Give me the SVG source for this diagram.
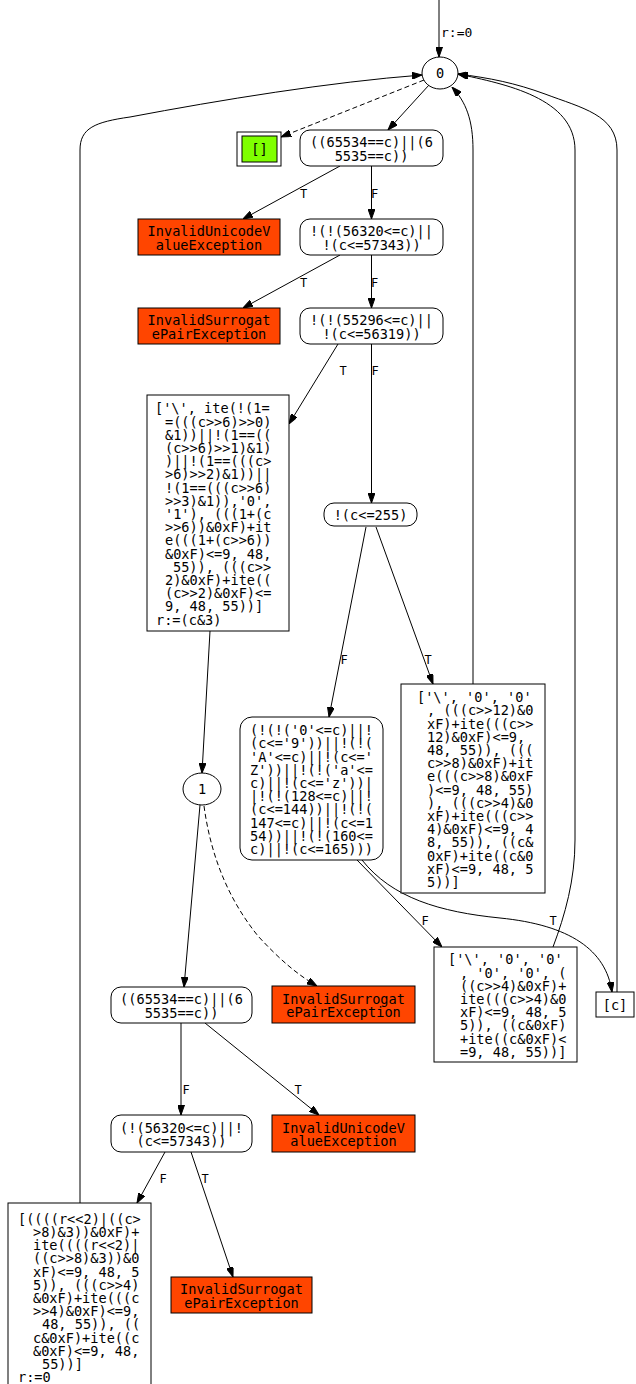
<svg xmlns="http://www.w3.org/2000/svg" width="636" height="1384" viewBox="0 0 636 1384">
<style>
text{font-family:"DejaVu Sans Mono","Liberation Mono",monospace;font-size:13.6px;fill:#000}
.c{text-anchor:middle}
.e{font-size:12px;text-anchor:middle}
.s{font-size:13px}
.n{fill:#fff;stroke:#000;stroke-width:1}
.x{fill:#ff4500;stroke:#000;stroke-width:1}
.g{fill:#7fff00;stroke:#000;stroke-width:1}
.edge path,.edge line{fill:none;stroke:#000;stroke-width:1;marker-end:url(#ah)}
.edge .d{stroke-dasharray:5,3}
</style>
<defs>
<marker id="ah" markerWidth="10" markerHeight="7" refX="10" refY="3.5" orient="auto" markerUnits="userSpaceOnUse"><path d="M0,0 L10,3.5 L0,7 z" fill="#000" stroke="#000" stroke-width="1" stroke-dasharray="none"/></marker>
</defs>
<rect width="636" height="1384" fill="#fff"/>
<g id="connectors" class="edge">
<line x1="439" y1="0" x2="439" y2="57"/>
<text class="s" x="441" y="37">r:=0</text>
<line class="d" x1="424" y1="80" x2="281" y2="137"/>
<line x1="429" y1="85" x2="388" y2="130"/>
<line x1="340" y1="166" x2="243" y2="219"/>
<text class="e" x="303.5" y="198">T</text>
<line x1="371.5" y1="166" x2="371.5" y2="219"/>
<text class="e" x="374.5" y="198">F</text>
<line x1="340" y1="255" x2="243" y2="308"/>
<text class="e" x="303.5" y="287">T</text>
<line x1="371.5" y1="255" x2="371.5" y2="308"/>
<text class="e" x="374.5" y="287">F</text>
<line x1="338" y1="344" x2="289" y2="424"/>
<text class="e" x="343" y="375">T</text>
<line x1="371.5" y1="344" x2="371.5" y2="503"/>
<text class="e" x="375" y="375">F</text>
<line x1="366" y1="527" x2="329" y2="717"/>
<text class="e" x="344" y="664">F</text>
<line x1="376" y1="527" x2="433" y2="684"/>
<text class="e" x="428" y="664">T</text>
<path d="M473,684 L473,150 C473,120 466,102 452,87"/>
<line x1="210" y1="631" x2="202" y2="773"/>
<line x1="357" y1="860" x2="442" y2="947"/>
<text class="e" x="425" y="925">F</text>
<path d="M362,860 C392,898 440,912 500,918 C570,925 606,950 612,992"/>
<text class="e" x="553" y="925">T</text>
<path d="M553,947 C565,915 575,880 575,840 L575,150 C575,98 505,84 458,74"/>
<path d="M617,992 L617,150 C617,115 582,108 545,94 C515,83 490,78 458,74"/>
<path d="M80,1203 L80,150 C80,128 95,122 130,117 C220,100 330,82 422,75"/>
<line x1="200" y1="805" x2="184" y2="987"/>
<path class="d" d="M204,806 C210,850 225,895 258,936 C280,960 298,975 317,986"/>
<line x1="181" y1="1023" x2="181" y2="1115"/>
<text class="e" x="186" y="1094">F</text>
<line x1="205" y1="1023" x2="319" y2="1115"/>
<text class="e" x="298" y="1094">T</text>
<line x1="165" y1="1152" x2="137" y2="1203"/>
<text class="e" x="163" y="1183">F</text>
<line x1="191" y1="1152" x2="233" y2="1277"/>
<text class="e" x="205" y="1183">T</text>
</g>
<g id="n0"><ellipse class="n" cx="440" cy="73" rx="18" ry="16"/><text class="c" x="440" y="78">0</text></g>
<g id="nEmpty"><rect class="n" x="237" y="132" width="44" height="34"/><rect class="g" x="242" y="136" width="35" height="26"/><text class="c" x="259.5" y="154">[]</text></g>
<g id="nA"><rect class="n" x="300" y="130" width="143" height="36" rx="10"/><text class="c" x="371.5" y="147.4">((65534==c)||(6</text><text class="c" x="371.5" y="160.6">5535==c))</text></g>
<g id="nIUVE1"><rect class="x" x="138" y="219" width="142" height="36"/><text class="c" x="209" y="236.4">InvalidUnicodeV</text><text class="c" x="209" y="249.6">alueException</text></g>
<g id="nB"><rect class="n" x="300" y="219" width="143" height="36" rx="10"/><text class="c" x="371.5" y="236.4">!(!(56320&lt;=c)||</text><text class="c" x="371.5" y="249.6">!(c&lt;=57343))</text></g>
<g id="nISPE1"><rect class="x" x="138" y="308" width="142" height="36"/><text class="c" x="209" y="325.4">InvalidSurrogat</text><text class="c" x="209" y="338.6">ePairException</text></g>
<g id="nC"><rect class="n" x="300" y="308" width="143" height="36" rx="10"/><text class="c" x="371.5" y="325.4">!(!(55296&lt;=c)||</text><text class="c" x="371.5" y="338.6">!(c&lt;=56319))</text></g>
<g id="nD"><rect class="n" x="147" y="395" width="142" height="236"/>
<text x="155" y="413.4">['\', ite(!(1=</text>
<text x="165" y="426.6">=(((c&gt;&gt;6)&gt;&gt;0)</text>
<text x="165" y="439.8">&amp;1))||!(1==((</text>
<text x="165" y="453">(c&gt;&gt;6)&gt;&gt;1)&amp;1)</text>
<text x="165" y="466.2">)||!(1==(((c&gt;</text>
<text x="165" y="479.4">&gt;6)&gt;&gt;2)&amp;1))||</text>
<text x="165" y="492.6">!(1==(((c&gt;&gt;6)</text>
<text x="165" y="505.8">&gt;&gt;3)&amp;1)),'0',</text>
<text x="165" y="519">'1'), (((1+(c</text>
<text x="165" y="532.2">&gt;&gt;6))&amp;0xF)+it</text>
<text x="165" y="545.4">e(((1+(c&gt;&gt;6))</text>
<text x="165" y="558.6">&amp;0xF)&lt;=9, 48,</text>
<text x="173" y="571.8">55)), (((c&gt;&gt;</text>
<text x="165" y="585">2)&amp;0xF)+ite((</text>
<text x="165" y="598.2">(c&gt;&gt;2)&amp;0xF)&lt;=</text>
<text x="165" y="611.4">9, 48, 55))]</text>
<text x="156" y="624.6">r:=(c&amp;3)</text>
</g>
<g id="nE"><rect class="n" x="324" y="503" width="93" height="23" rx="10"/><text class="c" x="370.5" y="519.5">!(c&lt;=255)</text></g>
<g id="nF"><rect class="n" x="240" y="717" width="143" height="143" rx="12"/>
<text class="c" x="311.5" y="735.1">(!(!('0'&lt;=c)||!</text>
<text class="c" x="311.5" y="748.3">(c&lt;='9'))||!(!(</text>
<text class="c" x="311.5" y="761.5">'A'&lt;=c)||!(c&lt;='</text>
<text class="c" x="311.5" y="774.7">Z'))||!(!('a'&lt;=</text>
<text class="c" x="311.5" y="787.9">c)||!(c&lt;='z'))|</text>
<text class="c" x="311.5" y="801.1">|!(!(128&lt;=c)||!</text>
<text class="c" x="311.5" y="814.3">(c&lt;=144))||!(!(</text>
<text class="c" x="311.5" y="827.5">147&lt;=c)||!(c&lt;=1</text>
<text class="c" x="311.5" y="840.7">54))||!(!(160&lt;=</text>
<text class="c" x="311.5" y="853.9">c)||!(c&lt;=165)))</text>
</g>
<g id="nG"><rect class="n" x="401" y="684" width="144" height="209"/>
<text x="417" y="702.1">['\', '0', '0'</text>
<text x="427" y="715.3">, (((c&gt;&gt;12)&amp;0</text>
<text x="427" y="728.5">xF)+ite(((c&gt;&gt;</text>
<text x="427" y="741.7">12)&amp;0xF)&lt;=9,</text>
<text x="427" y="754.9">48, 55)), (((</text>
<text x="427" y="768.1">c&gt;&gt;8)&amp;0xF)+it</text>
<text x="427" y="781.3">e(((c&gt;&gt;8)&amp;0xF</text>
<text x="427" y="794.5">)&lt;=9, 48, 55)</text>
<text x="427" y="807.7">), (((c&gt;&gt;4)&amp;0</text>
<text x="427" y="820.9">xF)+ite(((c&gt;&gt;</text>
<text x="427" y="834.1">4)&amp;0xF)&lt;=9, 4</text>
<text x="427" y="847.3">8, 55)), ((c&amp;</text>
<text x="427" y="860.5">0xF)+ite((c&amp;0</text>
<text x="427" y="873.7">xF)&lt;=9, 48, 5</text>
<text x="427" y="886.9">5))]</text>
</g>
<g id="n1"><ellipse class="n" cx="202" cy="789" rx="19" ry="16"/><text class="c" x="202" y="794">1</text></g>
<g id="nH"><rect class="n" x="434" y="947" width="143" height="115"/>
<text x="448" y="964.3">['\', '0', '0'</text>
<text x="460" y="977.5">, '0', '0', (</text>
<text x="460" y="990.7">((c&gt;&gt;4)&amp;0xF)+</text>
<text x="460" y="1003.9">ite(((c&gt;&gt;4)&amp;0</text>
<text x="460" y="1017.1">xF)&lt;=9, 48, 5</text>
<text x="460" y="1030.3">5)), ((c&amp;0xF)</text>
<text x="460" y="1043.5">+ite((c&amp;0xF)&lt;</text>
<text x="460" y="1056.7">=9, 48, 55))]</text>
</g>
<g id="nCc"><rect class="n" x="596" y="992" width="38" height="25"/><text class="c" x="615" y="1009.5">[c]</text></g>
<g id="nL"><rect class="n" x="111" y="987" width="141" height="36" rx="10"/><text class="c" x="181.5" y="1004.4">((65534==c)||(6</text><text class="c" x="181.5" y="1017.6">5535==c))</text></g>
<g id="nISPE2"><rect class="x" x="272" y="986" width="143" height="37"/><text class="c" x="343.5" y="1003.9">InvalidSurrogat</text><text class="c" x="343.5" y="1017.1">ePairException</text></g>
<g id="nM"><rect class="n" x="111" y="1115" width="141" height="37" rx="10"/><text class="c" x="181.5" y="1132.9">(!(56320&lt;=c)||!</text><text class="c" x="181.5" y="1146.1">(c&lt;=57343))</text></g>
<g id="nIUVE2"><rect class="x" x="272" y="1115" width="143" height="37"/><text class="c" x="343.5" y="1132.9">InvalidUnicodeV</text><text class="c" x="343.5" y="1146.1">alueException</text></g>
<g id="nK"><rect class="n" x="8" y="1203" width="143" height="188"/>
<text x="18" y="1223.8">[((((r&lt;&lt;2)|((c&gt;</text>
<text x="33" y="1237">&gt;8)&amp;3))&amp;0xF)+</text>
<text x="33" y="1250.2">ite((((r&lt;&lt;2)|</text>
<text x="33" y="1263.4">((c&gt;&gt;8)&amp;3))&amp;0</text>
<text x="33" y="1276.6">xF)&lt;=9, 48, 5</text>
<text x="33" y="1289.8">5)), (((c&gt;&gt;4)</text>
<text x="33" y="1303">&amp;0xF)+ite(((c</text>
<text x="33" y="1316.2">&gt;&gt;4)&amp;0xF)&lt;=9,</text>
<text x="42" y="1329.4">48, 55)), ((</text>
<text x="33" y="1342.6">c&amp;0xF)+ite((c</text>
<text x="33" y="1355.8">&amp;0xF)&lt;=9, 48,</text>
<text x="42" y="1369">55))]</text>
<text x="18" y="1382.2">r:=0</text>
</g>
<g id="nISPE3"><rect class="x" x="171" y="1277" width="141" height="36"/><text class="c" x="241.5" y="1294.4">InvalidSurrogat</text><text class="c" x="241.5" y="1307.6">ePairException</text></g>
</svg>
